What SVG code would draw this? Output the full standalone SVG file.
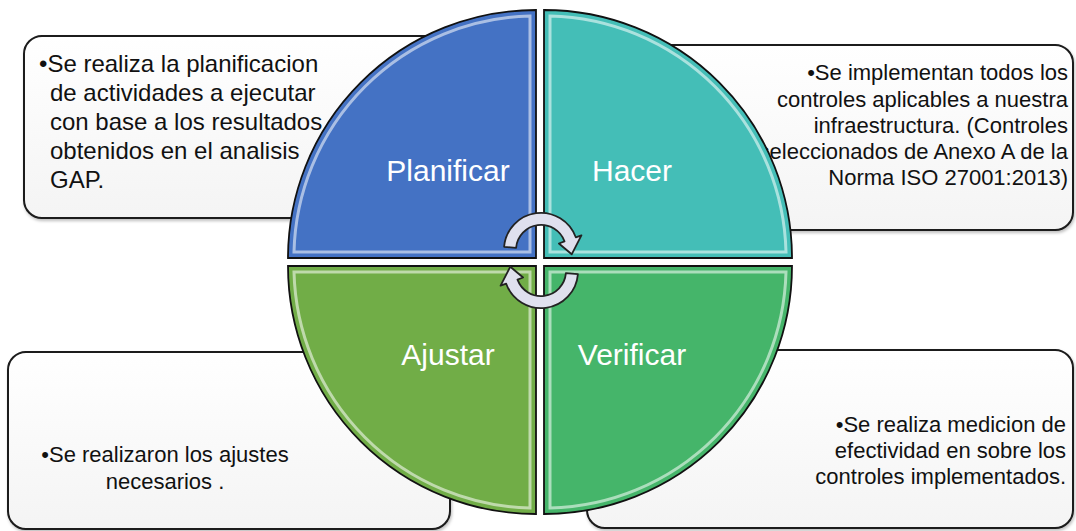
<svg xmlns="http://www.w3.org/2000/svg" width="1076" height="531" viewBox="0 0 1076 531">
<defs>
<linearGradient id="boxg" x1="0" y1="0" x2="0" y2="1">
<stop offset="0" stop-color="#ffffff"/>
<stop offset="1" stop-color="#f4f4f4"/>
</linearGradient>
<filter id="sh" x="-5%" y="-5%" width="110%" height="110%">
<feDropShadow dx="1" dy="2" stdDeviation="1.5" flood-color="#000" flood-opacity="0.25"/>
</filter>
</defs>
<style>
.box{fill:url(#boxg);stroke:#1a1a1a;stroke-width:2;}
.q{stroke:#111;stroke-width:1.8;}
.hl{fill:none;stroke:#ffffff;stroke-opacity:0.55;stroke-width:3;}
.t{font-family:"Liberation Sans",Arial,sans-serif;fill:#111;}
.lbl{font-family:"Liberation Sans",Arial,sans-serif;fill:#ffffff;font-size:30px;text-anchor:middle;}
.arr{fill:#dfe0ee;stroke:#222;stroke-width:1.8;stroke-linejoin:round;}
</style>

<g id="box-planificar">
<rect class="box" x="24" y="36" width="480" height="182" rx="18" filter="url(#sh)"/>
<text class="t" font-size="24"><tspan x="39" y="72">•Se realiza la planificacion</tspan><tspan x="50" y="101">de actividades a ejecutar</tspan><tspan x="50" y="130">con base a los resultados</tspan><tspan x="50" y="159">obtenidos en el analisis</tspan><tspan x="50" y="188">GAP.</tspan></text>
</g>
<g id="box-hacer">
<rect class="box" x="600" y="45" width="473" height="185" rx="18" filter="url(#sh)"/>
<text class="t" font-size="22" text-anchor="end"><tspan x="1068" y="80">•Se implementan todos los</tspan><tspan x="1068" y="107">controles aplicables a nuestra</tspan><tspan x="1068" y="133">infraestructura. (Controles</tspan><tspan x="1068" y="159">seleccionados de Anexo A de la</tspan><tspan x="1068" y="185">Norma ISO 27001:2013)</tspan></text>
</g>
<g id="box-ajustar">
<rect class="box" x="8" y="352" width="442" height="177" rx="18" filter="url(#sh)"/>
<text class="t" font-size="22" text-anchor="middle"><tspan x="165" y="462">•Se realizaron los ajustes</tspan><tspan x="165" y="489">necesarios .</tspan></text>
</g>
<g id="box-verificar">
<rect class="box" x="587" y="350" width="486" height="178" rx="18" filter="url(#sh)"/>
<text class="t" font-size="22" text-anchor="end"><tspan x="1066" y="432">•Se realiza medicion de</tspan><tspan x="1066" y="458">efectividad en sobre los</tspan><tspan x="1066" y="484">controles implementados.</tspan></text>
</g>

<g id="planificar">
<path class="q" fill="#4472c4" d="M536 258 L288 258 A248 248 0 0 1 536 10 Z"/>
<path class="hl" d="M530 252 L294 252 A242 242 0 0 1 530 16 Z"/>
<text class="lbl" x="448" y="181">Planificar</text>
</g>
<g id="hacer">
<path class="q" fill="#44beb7" d="M544 258 L544 10 A248 248 0 0 1 792 258 Z"/>
<path class="hl" d="M550 252 L550 16 A242 242 0 0 1 786 252 Z"/>
<text class="lbl" x="632" y="181">Hacer</text>
</g>
<g id="ajustar">
<path class="q" fill="#71ad47" d="M536 266 L536 514 A248 248 0 0 1 288 266 Z"/>
<path class="hl" d="M530 272 L530 508 A242 242 0 0 1 294 272 Z"/>
<text class="lbl" x="448" y="365">Ajustar</text>
</g>
<g id="verificar">
<path class="q" fill="#45b56a" d="M544 266 L792 266 A248 248 0 0 1 544 514 Z"/>
<path class="hl" d="M550 272 L786 272 A242 242 0 0 1 550 508 Z"/>
<text class="lbl" x="632" y="365">Verificar</text>
</g>

<g id="connectors">
<path class="arr" d="M516.1 247.8 A25 25 0 0 1 564.5 241.4 L558.9 243.5 L571.7 254.3 L581.4 235.3 L575.8 237.3 A37 37 0 0 0 504.1 246.8 Z"/>
<path class="arr" transform="rotate(180 541 260.5)" d="M516.1 247.8 A25 25 0 0 1 564.5 241.4 L558.9 243.5 L571.7 254.3 L581.4 235.3 L575.8 237.3 A37 37 0 0 0 504.1 246.8 Z"/>
</g>
</svg>
